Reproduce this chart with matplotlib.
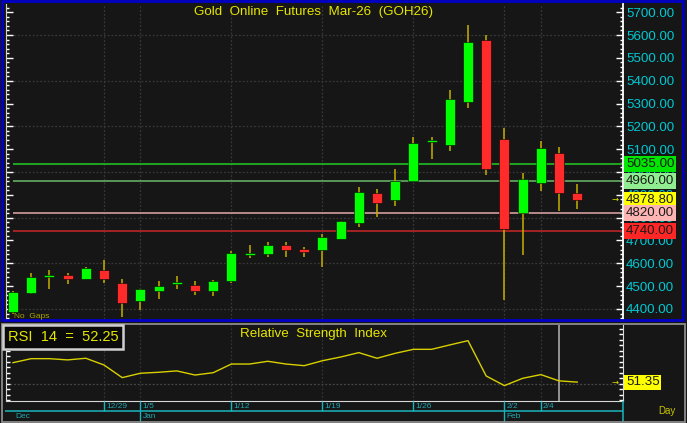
import matplotlib
matplotlib.use('Agg')
import matplotlib.pyplot as plt
import matplotlib.transforms as mtransforms
from matplotlib.patches import Rectangle
from matplotlib.ticker import MultipleLocator
import numpy as np

plt.rcParams['font.family'] = ['Liberation Sans', 'DejaVu Sans']

# daily candles, GOH26
opens = [4387, 4469, 4543, 4548, 4533, 4571, 4515, 4434, 4478, 4510, 4504, 4478, 4521, 4639, 4641, 4679,
         4663, 4657, 4708, 4777, 4907, 4876, 4962, 5134, 5120, 5308, 5579, 5143, 4819, 4953, 5082, 4907]
highs = [4478, 4556, 4571, 4556, 4585, 4615, 4533, 4486, 4524, 4545, 4521, 4528, 4654, 4679, 4692, 4692,
         4670, 4727, 4787, 4936, 4927, 5012, 5152, 5152, 5359, 5644, 5600, 5194, 4994, 5136, 5108, 4948]
lows = [4380, 4464, 4489, 4509, 4533, 4513, 4366, 4396, 4445, 4489, 4463, 4457, 4513, 4625, 4629, 4629,
        4629, 4585, 4705, 4761, 4804, 4852, 4960, 5055, 5093, 5279, 4987, 4439, 4635, 4918, 4829, 4837]
closes = [4476, 4539, 4547, 4533, 4580, 4533, 4425, 4486, 4501, 4515, 4480, 4523, 4644, 4643, 4679, 4657,
          4650, 4714, 4784, 4911, 4866, 4961, 5126, 5138, 5321, 5568, 5013, 4750, 4968, 5104, 4909, 4878.8]

rsi = [65.5, 68.4, 68.4, 67.5, 68.7, 63.8, 54.6, 57.8, 58.5, 59.5, 56.5, 58.2, 64.5, 64.5, 66.5, 64.5,
       63.3, 66.9, 69.6, 72.8, 68.7, 72.3, 75.2, 75.2, 78.4, 81.5, 55.8, 48.8, 54.1, 56.8, 52.25, 51.35]

levels = [5035, 4960, 4820, 4740]
level_line_colors = ['#22b022', '#5fa05f', '#c49494', '#b02424']
level_box_colors = ['#00e600', '#90ee90', '#ffb4b4', '#ff2626']
last_price = 4878.80

week_idx = [5, 7, 12, 17, 22, 27, 29]
week_lbl = ['12/29', '1/5', '1/12', '1/19', '1/26', '2/2', '2/4']
month_idx = [0, 7, 27]
month_lbl = ['Dec', 'Jan', 'Feb']

W, H = 687, 423
BG = '#161616'


def fx(x):
    return x / W


def fy(y):
    return 1 - y / H


fig = plt.figure(figsize=(W / 100, H / 100), dpi=100, facecolor=BG)

x0, x1 = 6, 623
xl = ((x0 - 13) / 18.2, (x1 - 13) / 18.2)

ax = fig.add_axes([fx(x0), fy(319), (x1 - x0) / W, 315 / H], facecolor=BG)
ax2 = fig.add_axes([fx(x0), fy(401), (x1 - x0) / W, 76 / H], facecolor=BG)
ax3 = fig.add_axes([fx(x0), fy(421), (x1 - x0) / W, 20 / H], facecolor=BG)

# ---- price panel
idx = np.arange(len(opens))
o = np.array(opens)
c = np.array(closes)
up = c >= o
ax.vlines(idx, lows, highs, color='#c4b000', lw=1.1, zorder=3)
body = np.maximum(np.abs(c - o), 10)
mid = (o + c) / 2
ax.bar(idx, body, bottom=mid - body / 2, width=0.55,
       color=np.where(up, '#00ff00', '#ff2b2b'), edgecolor='#050505', lw=0.4, zorder=4)

for p in range(4400, 5700, 200):
    ax.axhline(p, color='#383838', lw=0.9, ls=(0, (1.5, 1.5)), zorder=1)
for i in week_idx:
    ax.axvline(i, color='#383838', lw=0.9, ls=(0, (1.5, 1.5)), zorder=1)
for lv, lc in zip(levels, level_line_colors):
    ax.hlines(lv, 0, xl[1], color=lc, lw=1.3, zorder=2)

ax.set_xlim(*xl)
ax.set_ylim(4356, 5736)
ax.set_xticks([])
ax.yaxis.tick_right()
ax.set_yticks(range(4400, 5701, 100))
ax.set_yticklabels(['%.2f' % v for v in range(4400, 5701, 100)])
ax.yaxis.set_minor_locator(MultipleLocator(20))
ax.tick_params(axis='y', which='major', direction='in', length=5, width=1, color='white',
               labelcolor='#00c8d2', labelsize=9.6, pad=2.2, left=True, right=True)
ax.tick_params(axis='y', which='minor', direction='in', length=2.5, width=1, color='white',
               left=True, right=True)
for s in ['top', 'bottom']:
    ax.spines[s].set_visible(False)
ax.spines['left'].set_color('#d0d0d0')
ax.spines['right'].set_color('white')
ax.spines['right'].set_linewidth(1.3)

tr = mtransforms.blended_transform_factory(ax.transAxes, ax.transData)
lab_x = 1 + 3 / (x1 - x0)
box_vals = levels[:2] + [last_price] + levels[2:]
box_cols = level_box_colors[:2] + ['#ffff00'] + level_box_colors[2:]
for v, bc in zip(box_vals, box_cols):
    ax.text(lab_x, v, '%.2f' % v, transform=tr, ha='left', va='center', fontsize=9.6,
            color='#1a1a1a', clip_on=False, zorder=10,
            bbox=dict(boxstyle='square,pad=0.14', fc=bc, ec='none'))
ax.text(1 - 8 / (x1 - x0), last_price, '→', transform=tr, ha='center', va='center',
        fontsize=6, color='#e0e000', family='DejaVu Sans', clip_on=False, zorder=10)

# ---- RSI panel
ax2.plot(idx, rsi, color='#d8d000', lw=1.0, zorder=3)
ax2.axhline(50, color='#484848', lw=0.9, ls=(0, (1.5, 1.5)), zorder=1)
for i in week_idx:
    ax2.axvline(i, color='#333333', lw=0.9, ls=(0, (1.5, 1.5)), zorder=1)
ax2.axvline(30, color='#a8a8a8', lw=1.2, zorder=2)
ax2.set_xlim(*xl)
ax2.set_ylim(37.6, 92.9)
ax2.set_xticks([])
ax2.yaxis.set_major_locator(MultipleLocator(4, offset=2))
ax2.tick_params(axis='y', direction='in', length=3, width=1, color='white',
                left=True, right=True, labelleft=False, labelright=False)
ax2.spines['top'].set_visible(False)
for s in ['left', 'right', 'bottom']:
    ax2.spines[s].set_color('#d8d8d8')
tr2 = mtransforms.blended_transform_factory(ax2.transAxes, ax2.transData)
ax2.text(lab_x, rsi[-1], '%.2f' % rsi[-1], transform=tr2, ha='left', va='center', fontsize=9.6,
         color='#1a1a1a', clip_on=False, zorder=10,
         bbox=dict(boxstyle='square,pad=0.12', fc='#ffff00', ec='none'))
ax2.text(1 - 8 / (x1 - x0), rsi[-1], '→', transform=tr2, ha='center', va='center',
         fontsize=6, color='#e0e000', family='DejaVu Sans', clip_on=False, zorder=10)

# ---- date axis
ax3.set_xlim(*xl)
ax3.set_ylim(20, 0)
ax3.axis('off')
cyan = '#18b4bc'
ax3.hlines(9.5, xl[0] - 0.05, xl[1], color=cyan, lw=1.1, clip_on=False)
ax3.vlines(xl[1], 0, 21, color=cyan, lw=1.1, clip_on=False)
ax3.vlines(week_idx, 0, 9.5, color=cyan, lw=1.0)
for i, s in zip(week_idx, week_lbl):
    ax3.text(i + 0.12, 5.2, s, fontsize=6, color='#20a8b0', va='center', ha='left')
ax3.vlines(month_idx[1:], 9.5, 21, color=cyan, lw=1.0, clip_on=False)
for i, s in zip(month_idx, month_lbl):
    ax3.text(i + 0.12, 15.2, s, fontsize=6, color='#20a8b0', va='center', ha='left')

# ---- frames and captions
fig.add_artist(Rectangle((fx(1.5), fy(320)), 681 / W, 318.5 / H, transform=fig.transFigure,
                         fill=False, ec='#0000c8', lw=2))
fig.add_artist(Rectangle((fx(1.5), fy(421.5)), 683 / W, 98 / H, transform=fig.transFigure,
                         fill=False, ec='#8c8c8c', lw=1.3))

fig.text(fx(314), fy(12.5), 'Gold  Online  Futures  Mar-26  (GOH26)', ha='center', va='center',
         fontsize=9.6, color='#e6e600')
fig.text(fx(14), fy(316), 'No  Gaps', ha='left', va='center', fontsize=6, color='#a8a400')
fig.text(fx(313), fy(334), 'Relative  Strength  Index', ha='center', va='center',
         fontsize=9.6, color='#e6e600')
fig.text(fx(8), fy(337), 'RSI  14  =  52.25', ha='left', va='center', fontsize=10.5, color='#e6e600',
         bbox=dict(boxstyle='square,pad=0.32', fc='#0a0a0a', ec='#d0d0d0', lw=1.8))
fig.text(fx(667), fy(411), 'Day', ha='center', va='center', fontsize=7, color='#c8c400')

fig.savefig('out.png', dpi=100, facecolor=BG)
